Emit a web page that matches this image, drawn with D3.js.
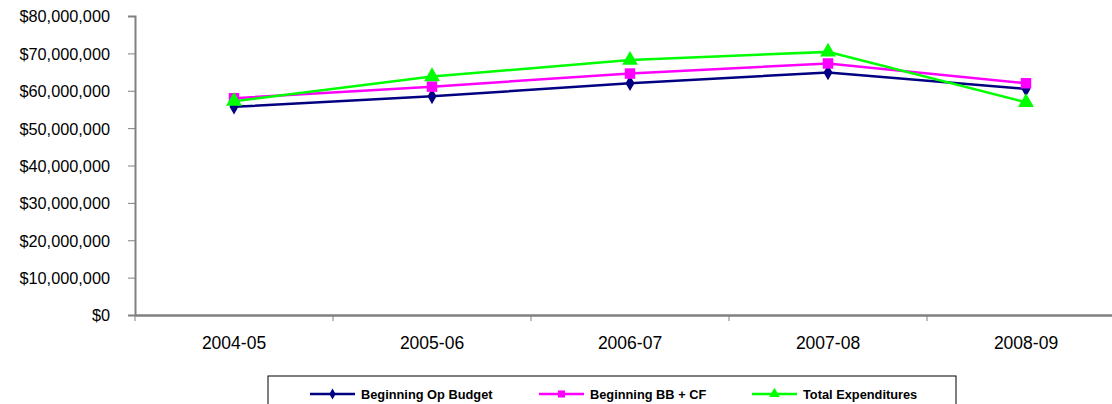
<!DOCTYPE html>
<html><head><meta charset="utf-8">
<script src="https://cdn.jsdelivr.net/npm/d3@7"></script>
<style>body{margin:0;background:#fff}svg{display:block}</style>
</head><body><svg id="c" width="1112" height="404"></svg>
<script>
const categories = ["2004-05","2005-06","2006-07","2007-08","2008-09"];
const opBudget = [55700000, 58500000, 62000000, 64900000, 60500000];
const bbCf = [58000000, 61100000, 64600000, 67300000, 62000000];
const totalExp = [57200000, 63800000, 68200000, 70400000, 56900000];
const yTicks = [0,10000000,20000000,30000000,40000000,50000000,60000000,70000000,80000000];
const seriesNames = ["Beginning Op Budget","Beginning BB + CF","Total Expenditures"];

const svg = d3.select("#c");
const x = d3.scaleBand().domain(categories).range([135,1125]);
const y = d3.scaleLinear().domain([0,80000000]).range([315,16]);
const fmt = v => "$" + d3.format(",")(v);
const FONT = "Liberation Sans, Arial";

// y axis
const ya = svg.append("g").attr("transform","translate(135,0)")
  .call(d3.axisLeft(y).tickValues(yTicks).tickFormat(fmt).tickSizeOuter(0).tickSize(7).tickPadding(18));
ya.select(".domain").attr("stroke","#808080").attr("stroke-width",2);
ya.selectAll(".tick line").attr("stroke","#808080").attr("stroke-width",1);
ya.selectAll("text").attr("font-family",FONT).attr("font-size",16.3).attr("fill","#000").attr("dy","0.36em");

// x axis
const xa = svg.append("g").attr("transform","translate(0,315)")
  .call(d3.axisBottom(x).tickSize(0).tickPadding(22).tickSizeOuter(0));
xa.select(".domain").attr("stroke","#808080").attr("stroke-width",2.5);
xa.selectAll("text").attr("font-family",FONT).attr("font-size",17.5).attr("fill","#000");
const bounds = categories.map(c => x(c)).concat([x.range()[1]]);
svg.append("g").selectAll("line").data(bounds).join("line")
  .attr("x1",d=>d).attr("x2",d=>d).attr("y1",315).attr("y2",321)
  .attr("stroke","#808080").attr("stroke-width",1);

const series = [
  {name:seriesNames[0], values:opBudget, color:"#000080", sym:d3.symbolDiamond, size:70},
  {name:seriesNames[1], values:bbCf, color:"#FF00FF", sym:d3.symbolSquare, size:110},
  {name:seriesNames[2], values:totalExp, color:"#00FF00", sym:d3.symbolTriangle, size:110}
];
const cx = c => x(c) + x.bandwidth()/2;
const line = d3.line().x((d,i)=>cx(categories[i])).y(d=>y(d));
series.forEach(s => {
  svg.append("path").datum(s.values).attr("d",line).attr("fill","none")
    .attr("stroke",s.color).attr("stroke-width",2.5);
});
series.forEach(s => {
  svg.append("g").selectAll("path").data(s.values).join("path")
    .attr("d", d3.symbol().type(s.sym).size(s.size))
    .attr("transform",(d,i)=>`translate(${cx(categories[i])},${y(d)})`)
    .attr("fill",s.color);
});

// legend
svg.append("rect").attr("x",268).attr("y",376).attr("width",688).attr("height",40)
  .attr("fill","#fff").attr("stroke","#000").attr("stroke-width",1);
const legX = [310, 539, 752];
series.forEach((s,i) => {
  const g = svg.append("g").attr("transform",`translate(${legX[i]},${394})`);
  g.append("line").attr("x1",0).attr("x2",45).attr("y1",0).attr("y2",0).attr("stroke",s.color).attr("stroke-width",2.5);
  g.append("path").attr("d", d3.symbol().type(s.sym).size(i===0?35:50)).attr("transform","translate(22.5,0)").attr("fill",s.color);
  g.append("text").attr("x",51).attr("y",4.5).text(s.name)
    .attr("font-family",FONT).attr("font-size",12.8).attr("font-weight","bold").attr("fill","#000");
});
</script></body></html>
